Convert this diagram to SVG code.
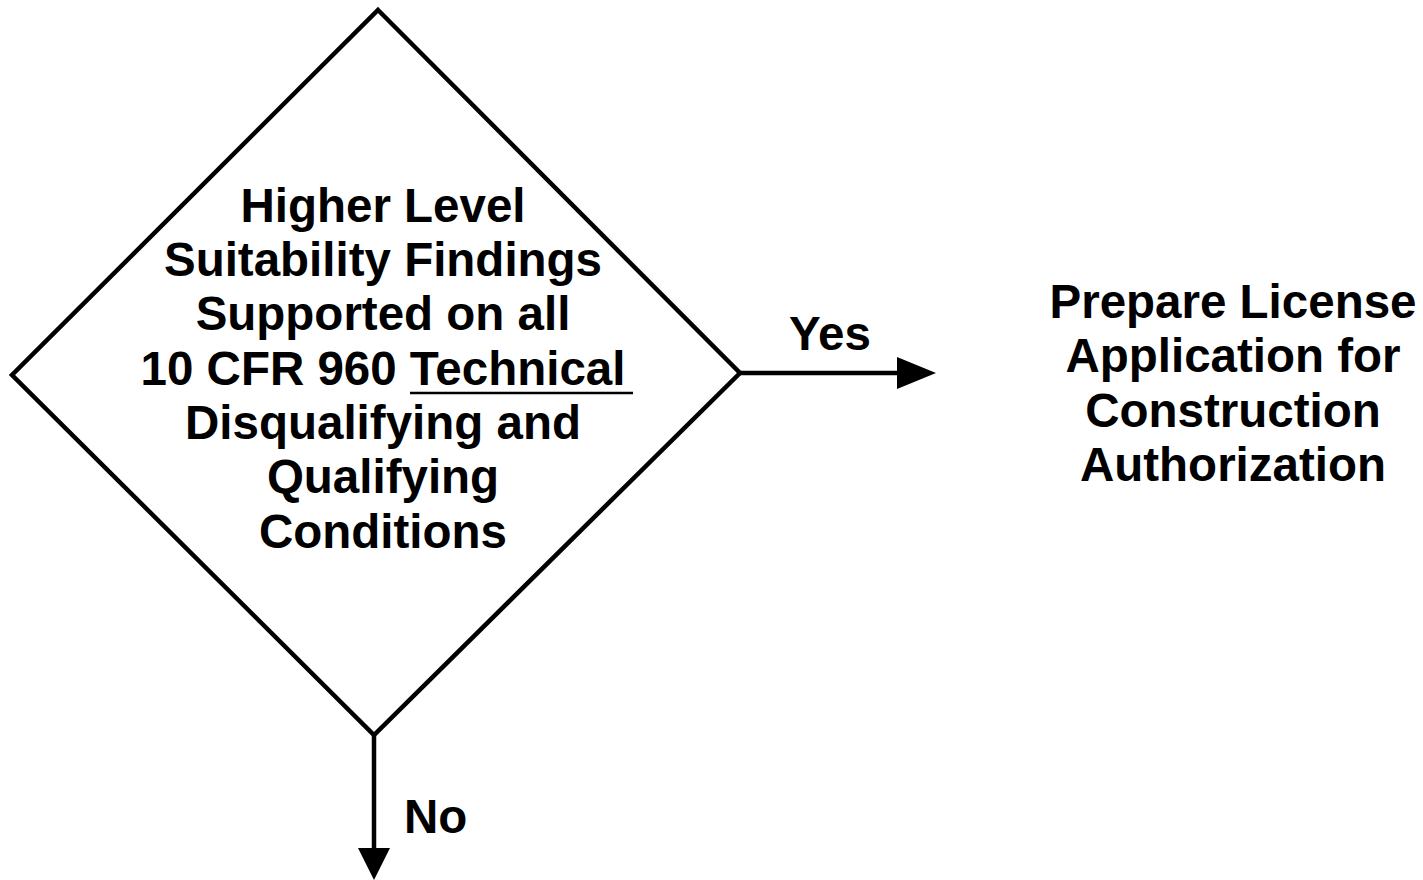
<svg xmlns="http://www.w3.org/2000/svg" width="1423" height="880" viewBox="0 0 1423 880">
<style>
  .t { font-family: "Liberation Sans", Arial, sans-serif; font-weight: bold; font-size: 47.5px; fill: #000; }
  .c { text-anchor: middle; }
  .ln { stroke: #000; stroke-width: 4.5; fill: none; }
</style>
<rect width="1423" height="880" fill="#fff"/>
<g id="decision">
  <polygon class="ln" points="378,10 740,373 374,735 12,375" stroke-linejoin="miter"/>
  <text class="t c" x="383" y="222">Higher Level</text>
  <text class="t c" x="383" y="276">Suitability Findings</text>
  <text class="t c" x="383" y="330">Supported on all</text>
  <text class="t c" x="383" y="385">10 CFR 960 Technical</text>
  <line x1="410" y1="393" x2="633" y2="393" stroke="#000" stroke-width="2.5"/>
  <text class="t c" x="383" y="439">Disqualifying and</text>
  <text class="t c" x="383" y="493">Qualifying</text>
  <text class="t c" x="383" y="548">Conditions</text>
</g>
<g id="license">
  <text class="t c" x="1233" y="318">Prepare License</text>
  <text class="t c" x="1233" y="372">Application for</text>
  <text class="t c" x="1233" y="427">Construction</text>
  <text class="t c" x="1233" y="481">Authorization</text>
</g>
<g id="connectors">
  <line class="ln" x1="740" y1="373" x2="902" y2="373"/>
  <path d="M897,357 L936,373 L897,389 Z" fill="#000"/>
  <text class="t" x="789" y="350">Yes</text>
  <line class="ln" x1="374" y1="735" x2="374" y2="850"/>
  <path d="M358,848 L374,880 L390,848 Z" fill="#000"/>
  <text class="t" x="404" y="833">No</text>
</g>
</svg>
